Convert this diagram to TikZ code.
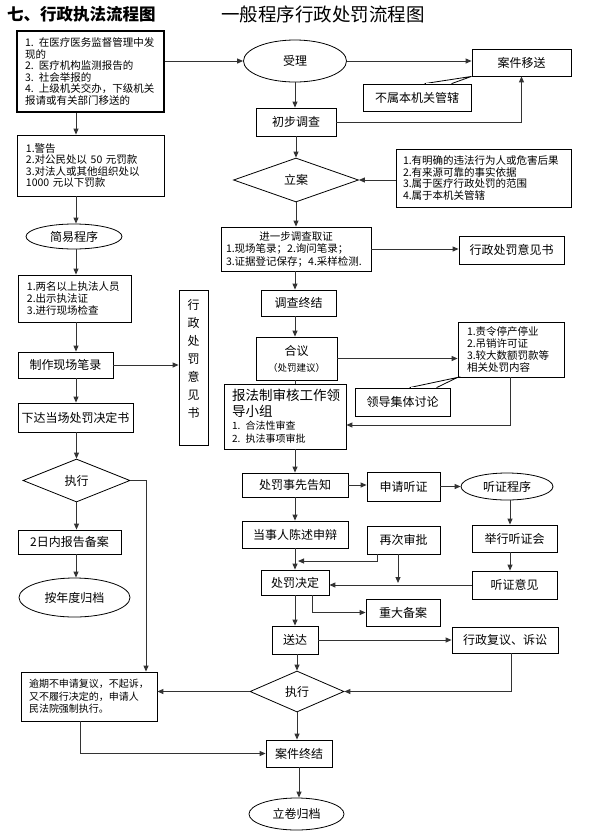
\documentclass[tikz,border=0pt]{standalone}
\usepackage{fontspec}
\setmainfont{Noto Sans CJK SC}
\usetikzlibrary{arrows.meta,shapes.geometric,calc}
\newcommand\fL{\fontsize{12}{14}\selectfont}
\newcommand\fS{\fontsize{10.5}{11.6}\selectfont}
\begin{document}
\begin{tikzpicture}[x=1pt,y=-1pt,
  box/.style={draw, line width=0.8pt, inner sep=0pt, font=\fL, align=center},
  lbox/.style={draw, line width=0.8pt, inner ysep=0pt, font=\fS, align=left},
  ell/.style={draw, ellipse, line width=0.8pt, inner sep=0pt, font=\fL},
  dia/.style={draw, diamond, line width=0.8pt, inner sep=0pt, font=\fL},
  conn/.style={draw=black!80, line width=1pt, -{Triangle[length=6pt,width=5pt]}},
  plain/.style={draw=black!80, line width=1pt},
  sz/.style 2 args={minimum width=#1pt, minimum height=#2pt}
]
\useasboundingbox (0,0) rectangle (592,839);
\fill[white] (0,0) rectangle (592,839);

% titles
\node[anchor=west, inner sep=0pt, font=\fontsize{16.5}{18}\selectfont\bfseries] (t1) at (7,14) {七、行政执法流程图};
\node[anchor=west, inner sep=0pt, font=\fontsize{18.5}{20}\selectfont] (t2) at (221,14) {一般程序行政处罚流程图};

% ---------- left column ----------
\coordinate (cl) at (76,0);
\coordinate (cr) at (146,0);
\node[lbox, line width=2pt, minimum height=81pt, inner xsep=8pt, text width=131pt] (b1) at (90.5,71.5)
  {\mbox{1. 在医疗医务监督管理中发}\\现的\\\mbox{2. 医疗机构监测报告的}\\\mbox{3. 社会举报的}\\\mbox{4. 上级机关交办，下级机关}\\报请或有关部门移送的};
\node[lbox, minimum height=61pt, inner xsep=9pt, text width=129pt] (warn) at (90.5,165.5)
  {1.警告\\\mbox{2.对公民处以 50 元罚款}\\3.对法人或其他组织处以\\\mbox{1000 元以下罚款}};
\node[ell, sz={96}{25}] (jy) at (74,236.5) {简易程序};
\node[lbox, minimum height=47pt, inner xsep=9pt, text width=95pt] (lm) at (74.5,298.5)
  {1.两名以上执法人员\\2.出示执法证\\3.进行现场检查};
\node[box, sz={95}{26}] (zz) at (65.5,365) {制作现场笔录};
\node[box, sz={29}{155}] (yjs) at (193.5,367.5) {};
\node[font=\fontsize{12}{18}\selectfont, align=center, anchor=north, inner sep=0pt] (yjst) at ($(yjs.north)+(0,10)$) {行\\政\\处\\罚\\意\\见\\书};
\node[box, sz={115}{29}] (xd) at (75.5,417.5) {下达当场处罚决定书};
\node[dia, sz={107}{43}] (zx1) at (76.5,480.5) {执行};
\node[box, sz={103}{24}] (bz) at (69.5,542) {2日内报告备案};
\node[ell, sz={111}{39}] (gd) at (74.5,597.5) {按年度归档};

% ---------- right column ----------
\coordinate (cm) at (295,0);
\coordinate (xl) at (510,0);
\coordinate (yl) at (0,425);
\node[ell, sz={103}{42}] (sl) at (295,61) {受理};
\node[box, sz={99}{27}] (ys) at (521.5,62.5) {案件移送};
\node[box, sz={108}{27}] (bs) at (417,97.5) {不属本机关管辖};
\node[box, sz={80}{28}] (cb) at (296,122) {初步调查};
\node[dia, sz={125}{44}] (la) at (296,180) {立案};
\node[lbox, minimum height=58pt, inner xsep=7pt, text width=161pt] (crit) at (483.5,178)
  {1.有明确的违法行为人或危害后果\\2.有来源可靠的事实依据\\3.属于医疗行政处罚的范围\\4.属于本机关管辖};
\node[lbox, font=\fontsize{10.5}{12.5}\selectfont, minimum height=44pt, inner xsep=5pt, text width=140pt] (jb) at (296,249)
  {\makebox[140pt]{进一步调查取证}\\1.现场笔录；2.询问笔录；\\3.证据登记保存；4.采样检测.};
\node[box, sz={105}{28}] (yj) at (511.5,250) {行政处罚意见书};
\node[box, sz={75}{26}] (dz) at (298.5,303) {调查终结};
\node[box, sz={81}{43}] (hy) at (296.5,358.5) {合议\\[2pt]{\fontsize{9.5}{11}\selectfont（处罚建议）}};
\node[lbox, font=\fontsize{10.5}{12}\selectfont, minimum height=55pt, inner xsep=9pt, text width=88pt] (lb) at (511,349.5)
  {1.责令停产停业\\2.吊销许可证\\3.较大数额罚款等\\相关处罚内容};
\node[box, sz={95}{28}] (ld) at (402.5,402) {领导集体讨论};
\node[lbox, minimum height=65pt, inner xsep=8pt, text width=106pt] (bf) at (285,416.5)
  {{\fontsize{13.5}{16}\selectfont 报法制审核工作领\\导小组\par}{\fontsize{10}{13}\selectfont 1. 合法性审查\\2. 执法事项审批\par}};
\node[box, sz={106}{24}] (gz) at (295,485) {处罚事先告知};
\node[box, sz={73}{29}] (sq) at (403.5,486.5) {申请听证};
\node[ell, sz={92}{27}] (tz) at (507,486.5) {听证程序};
\node[box, sz={85}{27}] (jx) at (514.5,538.5) {举行听证会};
\node[box, sz={85}{28}] (ty) at (514.5,585) {听证意见};
\node[box, sz={106}{27}] (dsr) at (295,534.5) {当事人陈述申辩};
\node[box, sz={73}{28}] (zc) at (403.5,540) {再次审批};
\node[box, sz={68}{25}] (cf) at (295,582.5) {处罚决定};
\node[box, sz={74}{27}] (zd) at (403,612.5) {重大备案};
\node[box, sz={46}{28}] (sd) at (295,640) {送达};
\node[box, sz={106}{26}] (xf) at (505,640) {行政复议、诉讼};
\node[dia, sz={94}{41}] (zx2) at (297,691.5) {执行};
\node[lbox, font=\fontsize{10}{12.5}\selectfont, minimum height=49pt, inner xsep=8pt, text width=120pt] (yq) at (89,696.5)
  {逾期不申请复议，不起诉，\\又不履行决定的，申请人\\民法院强制执行。};
\node[box, sz={66}{27}] (aj) at (299,753.5) {案件终结};
\node[ell, sz={95}{32}] (lj) at (296.5,814) {立卷归档};

\coordinate (x377) at (377,0);
\coordinate (x398) at (398,0);
\coordinate (x312) at (312,0);
\coordinate (x511) at (511,0);
\coordinate (x80) at (80,0);
\coordinate (j1) at (298,561);
\coordinate (j2) at (398,583);

% ---------- connectors: left ----------
\draw[conn] (b1.south -| cl) -- (warn.north -| cl);
\draw[conn] (warn.south -| cl) -- (jy.north -| cl);
\draw[conn] (jy.south -| cl) -- (lm.north -| cl);
\draw[conn] (lm.south -| cl) -- (zz.north -| cl);
\draw[conn] (zz.east) -- (zz.east -| yjs.west);
\draw[conn] (zz.south -| cl) -- (xd.north -| cl);
\draw[conn] (xd.south -| zx1.north) -- (zx1.north);
\draw[conn] (zx1.south) -- (zx1.south |- bz.north);
\draw[conn] (bz.south -| cl) -- (gd.north -| cl);
\draw[conn] (zx1.east) -| (yq.north -| cr);

% ---------- connectors: right ----------
\draw[conn] (sl.west -| b1.east) -- (sl.west);
\draw[conn] (sl.south) -- (sl.south |- cb.north);
\draw[conn] (sl.east) -- (sl.east -| ys.west);
\draw[line width=0.8pt] ($(bs.north west)+(62,0)$) -- (ys.south west) -- ($(bs.north west)+(89,0)$);
\draw[white, line width=1.4pt] ($(bs.north west)+(63.5,0)$) -- ($(bs.north west)+(87.5,0)$);
\draw[conn] (cb.east) -| (ys.south);
\draw[conn] (la.north |- cb.south) -- (la.north);
\draw[conn] (la.east -| crit.west) -- (la.east);
\draw[conn] (la.south) -- (jb.north);
\draw[conn] (jb.east) -- (jb.east -| yj.west);
\draw[conn] (jb.south -| cm) -- (dz.north -| cm);
\draw[conn] (dz.south -| cm) -- (hy.north -| cm);
\draw[conn] (hy.east) -- (hy.east -| lb.west);
\draw[line width=0.8pt] ($(ld.north west)+(55,0)$) -- (lb.south west) -- ($(ld.north west)+(82,0)$);
\draw[white, line width=1.4pt] ($(ld.north west)+(56.5,0)$) -- ($(ld.north west)+(80.5,0)$);
\draw[plain] (hy.south -| cm) -- (bf.north -| cm);
\draw[conn] (lb.south -| xl) |- (bf.east |- yl);
\draw[conn] (bf.south -| cm) -- (gz.north -| cm);
\draw[conn] (gz.east) -- (gz.east -| sq.west);
\draw[conn] (sq.east) -- (sq.east -| tz.west);
\draw[conn] (tz.south -| xl) -- (jx.north -| xl);
\draw[conn] (jx.south -| xl) -- (ty.north -| xl);
\draw[conn] (gz.south -| cm) -- (dsr.north -| cm);
\draw[conn] (dsr.south -| cm) -- (cf.north -| cm);
\draw[conn] (zc.south -| x377) |- (j1);
\draw[conn] (zc.south -| x398) -- (j2);
\draw[conn] (ty.west) -- (ty.west -| cf.east);
\draw[conn] (cf.south -| x312) |- (zd.west);
\draw[conn] (cf.south -| cm) -- (sd.north -| cm);
\draw[conn] (sd.east) -- (sd.east -| xf.west);
\draw[conn] (zx2.north |- sd.south) -- (zx2.north);
\draw[conn] (xf.south -| x511) |- (zx2.east);
\draw[conn] (zx2.west) -- (zx2.west -| yq.east);
\draw[conn] (zx2.south) -- (zx2.south |- aj.north);
\draw[conn] (yq.south -| x80) |- (aj.west);
\draw[conn] (aj.south) -- (aj.south |- lj.north);
\end{tikzpicture}
\end{document}
